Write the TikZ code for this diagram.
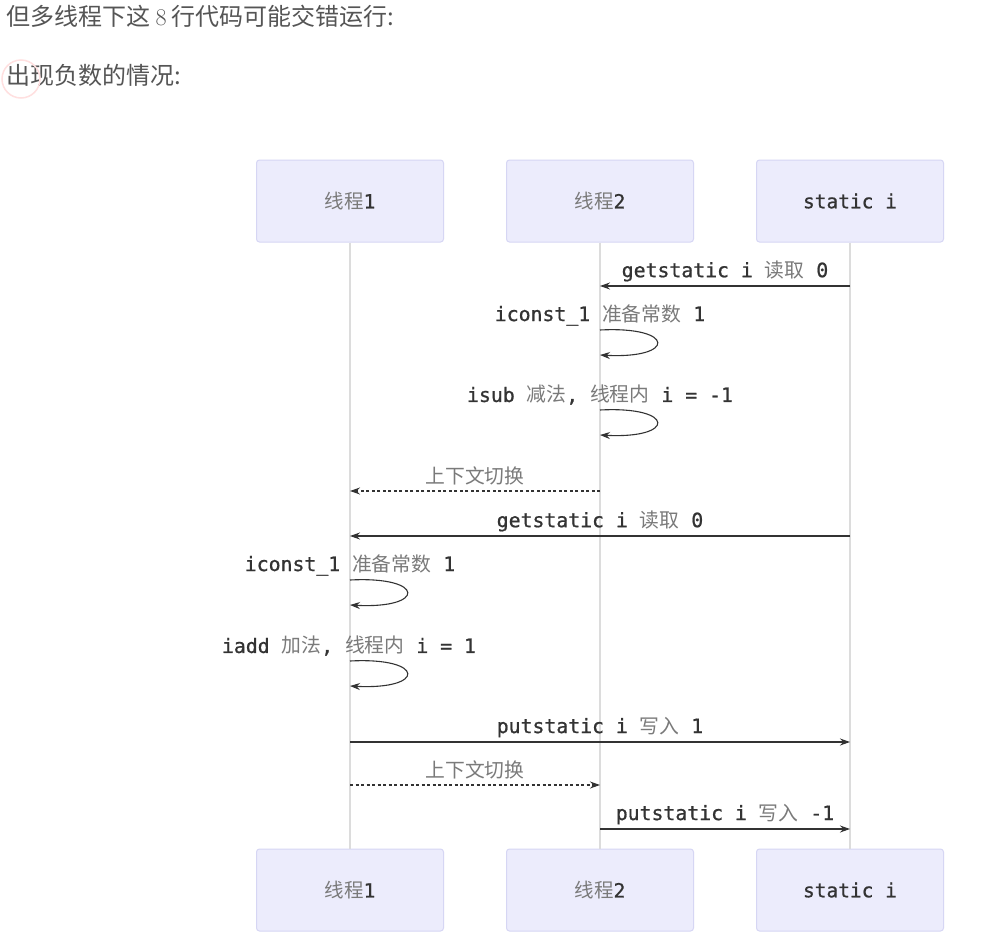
\documentclass[tikz,border=0pt]{standalone}
\usepackage{fontspec}
\usetikzlibrary{arrows.meta}
\newfontfamily\zhfont{Noto Sans CJK SC}
\newfontfamily\mofont{DejaVu Sans Mono}[FakeBold=0.9]
\definecolor{boxfill}{HTML}{ECECFC}
\definecolor{boxline}{HTML}{D6D6F4}
\definecolor{life}{HTML}{DCDCDC}
\definecolor{zhgray}{HTML}{7A7A7A}
\definecolor{mogray}{HTML}{333333}
\definecolor{toptext}{HTML}{555555}
\newcommand\zh[1]{{\color{zhgray}\zhfont#1}}
\newcommand\mo[1]{{\color{mogray}\mofont#1}}
\tikzset{
  actor/.style={draw=boxline, fill=boxfill, rounded corners=3pt, line width=1pt,
    minimum width=187pt, minimum height=82pt, inner sep=0pt, font=\fontsize{19.5}{21}\selectfont},
  lifeline/.style={draw=life, line width=1.2pt},
  msg/.style={draw=mogray, line width=1.1pt, -{Stealth[length=10pt,width=7pt]}},
  ctx/.style={msg, dash pattern=on 3pt off 2.5pt},
  lbl/.style={font=\fontsize{19.8}{21}\selectfont, inner sep=0pt},
  toplbl/.style={font=\zhfont\fontsize{24}{28}\selectfont, text=toptext, anchor=west, inner sep=0pt}
}
\begin{document}
\begin{tikzpicture}[x=1pt,y=-1pt]
\useasboundingbox (0,0) rectangle (1005,932);
\fill[white] (0,0) rectangle (1005,932);

\node[toplbl] (t1) at (6,16) {但多线程下这 {\rmfamily 8} 行代码可能交错运行:};
\node[toplbl] (t2) at (6,75) {出现负数的情况:};
\draw[red!12, line width=1.5pt] (21,79) circle (19);

% actors
\node[actor] (a1) at (350,201) {\zh{线程}\mo{1}};
\node[actor] (a2) at (600,201) {\zh{线程}\mo{2}};
\node[actor] (a3) at (850,201) {\mo{static i}};
\node[actor] (b1) at (350,890) {\zh{线程}\mo{1}};
\node[actor] (b2) at (600,890) {\zh{线程}\mo{2}};
\node[actor] (b3) at (850,890) {\mo{static i}};

\draw[lifeline] (a1.south) -- (b1.north);
\draw[lifeline] (a2.south) -- (b2.north);
\draw[lifeline] (a3.south) -- (b3.north);

% message end points
\coordinate (m1s) at (850,286); \coordinate (m1e) at (600,286);
\coordinate (l1s) at (600,330); \coordinate (l1e) at (600,355);
\coordinate (l2s) at (600,410); \coordinate (l2e) at (600,435);
\coordinate (m2s) at (600,491); \coordinate (m2e) at (350,491);
\coordinate (m3s) at (850,536); \coordinate (m3e) at (350,536);
\coordinate (l3s) at (350,580); \coordinate (l3e) at (350,605);
\coordinate (l4s) at (350,661); \coordinate (l4e) at (350,686);
\coordinate (m4s) at (350,742); \coordinate (m4e) at (850,742);
\coordinate (m5s) at (350,785); \coordinate (m5e) at (600,785);
\coordinate (m6s) at (600,829); \coordinate (m6e) at (850,829);

% messages
\draw[msg] (m1s) -- (m1e);
\node[lbl] (n1) at (725,271) {\mo{getstatic i }\zh{读取}\mo{ 0}};

\draw[msg] (l1s) .. controls (676,326) and (676,359) .. (l1e);
\node[lbl] (n2) at (600,315) {\mo{iconst\_1 }\zh{准备常数}\mo{ 1}};

\draw[msg] (l2s) .. controls (676,406) and (676,439) .. (l2e);
\node[lbl] (n3) at (600,395) {\mo{isub }\zh{减法}\mo{, }\zh{线程内}\mo{ i = -1}};

\draw[ctx] (m2s) -- (m2e);
\node[lbl] (n4) at (475,476) {\zh{上下文切换}};

\draw[msg] (m3s) -- (m3e);
\node[lbl] (n5) at (600,521) {\mo{getstatic i }\zh{读取}\mo{ 0}};

\draw[msg] (l3s) .. controls (426,576) and (426,609) .. (l3e);
\node[lbl] (n6) at (350,565) {\mo{iconst\_1 }\zh{准备常数}\mo{ 1}};

\draw[msg] (l4s) .. controls (426,657) and (426,690) .. (l4e);
\node[lbl] (n7) at (349,646) {\mo{iadd }\zh{加法}\mo{, }\zh{线程内}\mo{ i = 1}};

\draw[msg] (m4s) -- (m4e);
\node[lbl] (n8) at (600,727) {\mo{putstatic i }\zh{写入}\mo{ 1}};

\draw[ctx] (m5s) -- (m5e);
\node[lbl] (n9) at (475,770) {\zh{上下文切换}};

\draw[msg] (m6s) -- (m6e);
\node[lbl] (n10) at (725,814) {\mo{putstatic i }\zh{写入}\mo{ -1}};
\end{tikzpicture}
\end{document}
